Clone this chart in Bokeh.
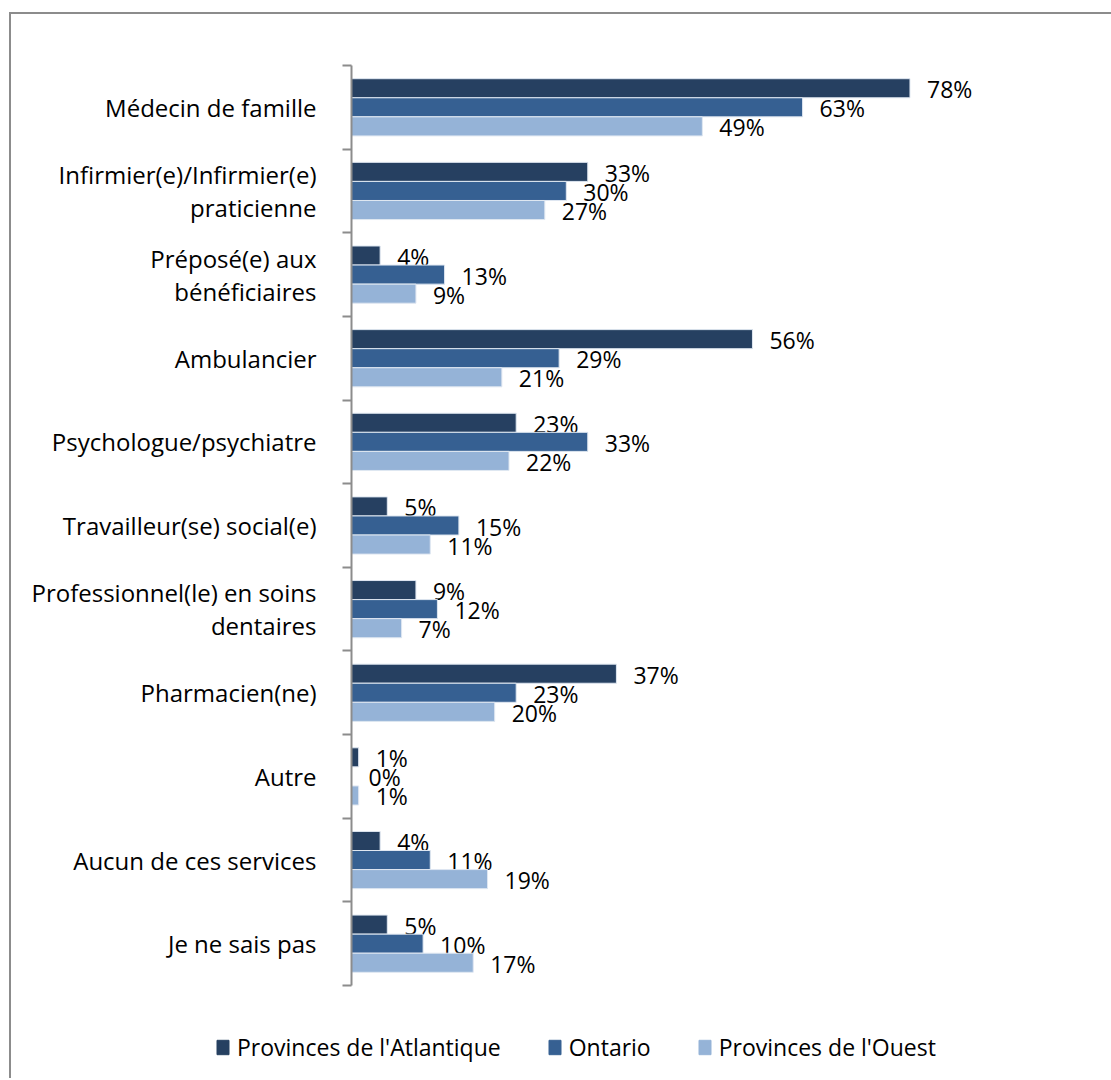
import numpy as np
from bokeh.plotting import figure
from bokeh.models import (ColumnDataSource, Range1d, FixedTicker, Legend, LegendItem)
from bokeh.layouts import column
from bokeh.core.properties import value
from bokeh.transform import dodge
from bokeh.embed import file_html
from bokeh.resources import INLINE

categories = [
    "Médecin de famille",
    "Infirmier(e)/Infirmier(e)\npraticienne",
    "Préposé(e) aux\nbénéficiaires",
    "Ambulancier",
    "Psychologue/psychiatre",
    "Travailleur(se) social(e)",
    "Professionnel(le) en soins\ndentaires",
    "Pharmacien(ne)",
    "Autre",
    "Aucun de ces services",
    "Je ne sais pas",
]
series_names = ["Provinces de l'Atlantique", "Ontario", "Provinces de l'Ouest"]
atlantique = [78, 33, 4, 56, 23, 5, 9, 37, 1, 4, 5]
ontario = [63, 30, 13, 29, 33, 15, 12, 23, 0, 11, 10]
ouest = [49, 27, 9, 21, 22, 11, 7, 20, 1, 19, 17]
colors = ["#264061", "#366092", "#95B3D7"]

FONT = "Open Sans"
BORDER = "2px solid #8c8c8c"
n = len(categories)
idx = np.arange(n)

# ---- main chart ----
p = figure(frame_width=714, frame_height=918,
           min_border_left=340, min_border_top=51, min_border_right=46, min_border_bottom=30,
           x_range=Range1d(0, 100), y_range=Range1d(n - 0.5, -0.5),
           output_backend="svg", toolbar_location=None)
p.xaxis.visible = False
p.xgrid.visible = False
p.ygrid.visible = False
p.outline_line_color = None
p.background_fill_color = "white"
p.border_fill_color = "white"
p.styles = {"border-top": BORDER, "border-left": BORDER,
            "margin-top": "12px", "margin-left": "9px"}

bar_h = 0.228
offsets = [-bar_h, 0.0, bar_h]
for name, vals, col, off in zip(series_names, [atlantique, ontario, ouest], colors, offsets):
    src = ColumnDataSource(dict(y=idx, v=vals, lab=[f"{v}%" for v in vals]))
    p.hbar(y=dodge("y", off), right="v", left=0, height=bar_h, source=src,
           fill_color=col, line_color="#dfe7f1", line_width=1)
    p.text(x="v", y=dodge("y", off), text="lab", source=src, x_offset=17, y_offset=1,
           text_align="left", text_baseline="middle", text_font=value(FONT),
           text_font_size="23px", text_color="black")

ax = p.yaxis[0]
ax.ticker = FixedTicker(ticks=list(idx), minor_ticks=list(np.arange(n + 1) - 0.5))
ax.major_label_overrides = {int(i): c for i, c in zip(idx, categories)}
ax.major_tick_out = 0
ax.major_tick_in = 0
ax.minor_tick_out = 9
ax.minor_tick_in = 0
ax.minor_tick_line_color = "#8c8c8c"
ax.minor_tick_line_width = 2
ax.axis_line_color = "#8c8c8c"
ax.axis_line_width = 2
ax.major_label_standoff = 26
ax.major_label_text_font = FONT
ax.major_label_text_font_size = "24px"
ax.major_label_text_color = "black"
ax.major_label_text_line_height = 1.0

# ---- legend strip ----
lg = figure(frame_width=1100, frame_height=65, min_border=0,
            x_range=Range1d(0, 1), y_range=Range1d(0, 1),
            output_backend="svg", toolbar_location=None)
lg.axis.visible = False
lg.grid.visible = False
lg.outline_line_color = None
lg.styles = {"border-left": BORDER, "margin-left": "9px"}
items = []
for name, col in zip(series_names, colors):
    ph = ColumnDataSource(dict(y=[np.nan], right=[np.nan]))
    r = lg.hbar(y="y", right="right", left=0, height=1, source=ph,
                fill_color=col, line_color=col, line_width=1)
    items.append(LegendItem(label=name, renderers=[r], index=0))
legend = Legend(items=items, orientation="horizontal", location=(204, 15),
                glyph_width=15, glyph_height=18, label_standoff=7, spacing=46,
                padding=0, margin=0, border_line_color=None, background_fill_alpha=0,
                label_text_font=FONT, label_text_font_size="23px", label_text_color="black",
                label_height=20)
lg.add_layout(legend, "center")

layout = column(p, lg, spacing=0)
open("out.html", "w").write(file_html(layout, INLINE))
